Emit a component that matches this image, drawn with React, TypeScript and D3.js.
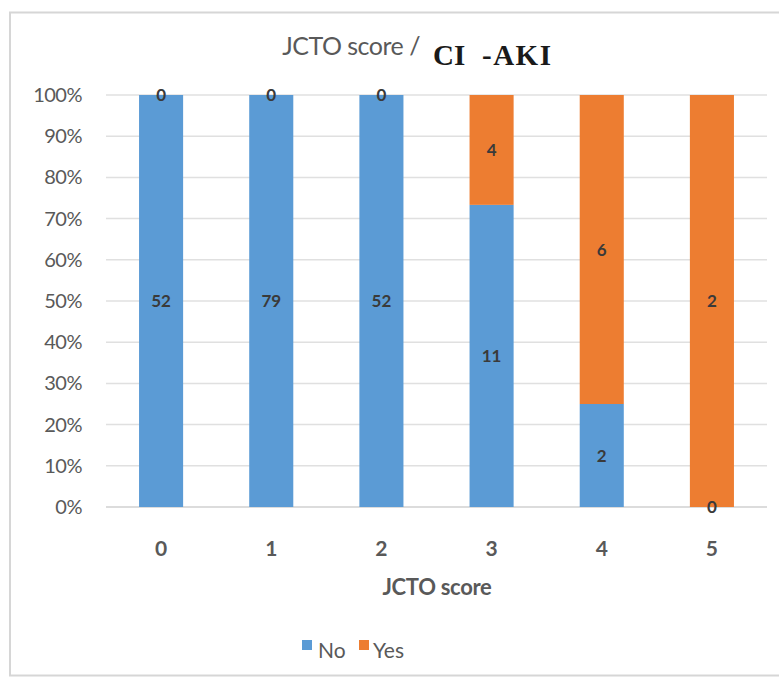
import React from "react";
import * as d3 from "d3";

const categories = ["0", "1", "2", "3", "4", "5"];
const noCounts = [52, 79, 52, 11, 2, 0];
const yesCounts = [0, 0, 0, 4, 6, 2];
const yTicks = [0, 0.1, 0.2, 0.3, 0.4, 0.5, 0.6, 0.7, 0.8, 0.9, 1];
const seriesNames = ["No", "Yes"];

const W = 779;
const H = 677;
const BLUE = "#5B9BD5";
const ORANGE = "#ED7D31";
const TEXT = "#595959";
const SANS = "Lato, 'Open Sans', sans-serif";
const SERIF = "'Liberation Serif', 'DejaVu Serif', serif";

export default function App() {
  const x = d3.scaleBand<string>().domain(categories).range([106, 767]).paddingInner(0.6).paddingOuter(0.3);
  const y = d3.scaleLinear().domain([0, 1]).range([507, 95]);

  const rows = categories.map((c, i) => {
    const total = noCounts[i] + yesCounts[i];
    return { cat: c, No: noCounts[i] / total, Yes: yesCounts[i] / total, nNo: noCounts[i], nYes: yesCounts[i] };
  });
  const stacked = d3.stack<any>().keys(seriesNames)(rows);
  const colors = [BLUE, ORANGE];
  const bw = x.bandwidth();

  return (
    <svg width={W} height={H} style={{ position: "absolute", left: 0, top: 0, fontFamily: SANS }}>
      <rect x={0} y={0} width={W} height={H} fill="#fff" />
      <rect x={10} y={12.5} width={W + 10} height={H - 14} fill="none" stroke="#d6d6d6" strokeWidth={2} />

      {/* title */}
      <text x={420} y={55} textAnchor="end" fontSize={25} fill={TEXT} fontFamily={SANS} letterSpacing={-0.5}>
        JCTO score /
      </text>
      <text x={433} y={65} fontSize={29} fontWeight="bold" fill="#1a1a1a" fontFamily={SERIF}>
        CI
      </text>
      <text x={482} y={65} fontSize={29} fontWeight="bold" fill="#1a1a1a" fontFamily={SERIF} letterSpacing={1.5}>
        -AKI
      </text>

      {/* gridlines and y labels */}
      {yTicks.map((t) => (
        <g key={t}>
          <line x1={106} x2={767} y1={y(t)} y2={y(t)} stroke={t === 0 ? "#d0d0d0" : "#e0e0e0"} strokeWidth={1.5} />
          <text x={82} y={y(t) + 7} textAnchor="end" fontSize={20} fill={TEXT} letterSpacing={-0.5}>
            {d3.format(".0%")(t)}
          </text>
        </g>
      ))}

      {/* stacked bars */}
      {stacked.map((s, si) => (
        <g key={s.key} fill={colors[si]}>
          {s.map((d, i) => (
            <rect key={i} x={x(categories[i])!} y={y(d[1])} width={bw} height={y(d[0]) - y(d[1])} />
          ))}
        </g>
      ))}

      {/* data labels */}
      {stacked.map((s, si) =>
        s.map((d, i) => {
          const v = si === 0 ? rows[i].nNo : rows[i].nYes;
          const mid = (d[0] + d[1]) / 2;
          return (
            <text
              key={`${si}-${i}`}
              x={x(categories[i])! + bw / 2}
              y={y(mid) + 6}
              textAnchor="middle"
              fontSize={17}
              fontWeight="bold"
              fill="#3a3a3a"
            >
              {v}
            </text>
          );
        })
      )}

      {/* x labels */}
      {categories.map((c) => (
        <text key={c} x={x(c)! + bw / 2} y={556} textAnchor="middle" fontSize={21} fontWeight="bold" fill={TEXT}>
          {c}
        </text>
      ))}
      <text x={437} y={595} textAnchor="middle" fontSize={22} fontWeight="bold" fill={TEXT} letterSpacing={-0.3}>
        JCTO score
      </text>

      {/* legend */}
      <rect x={302} y={640} width={10} height={10} fill={BLUE} />
      <text x={318} y={658} fontSize={21} fill={TEXT}>No</text>
      <rect x={359} y={640} width={10} height={10} fill={ORANGE} />
      <text x={373} y={658} fontSize={21} fill={TEXT}>Yes</text>
    </svg>
  );
}
